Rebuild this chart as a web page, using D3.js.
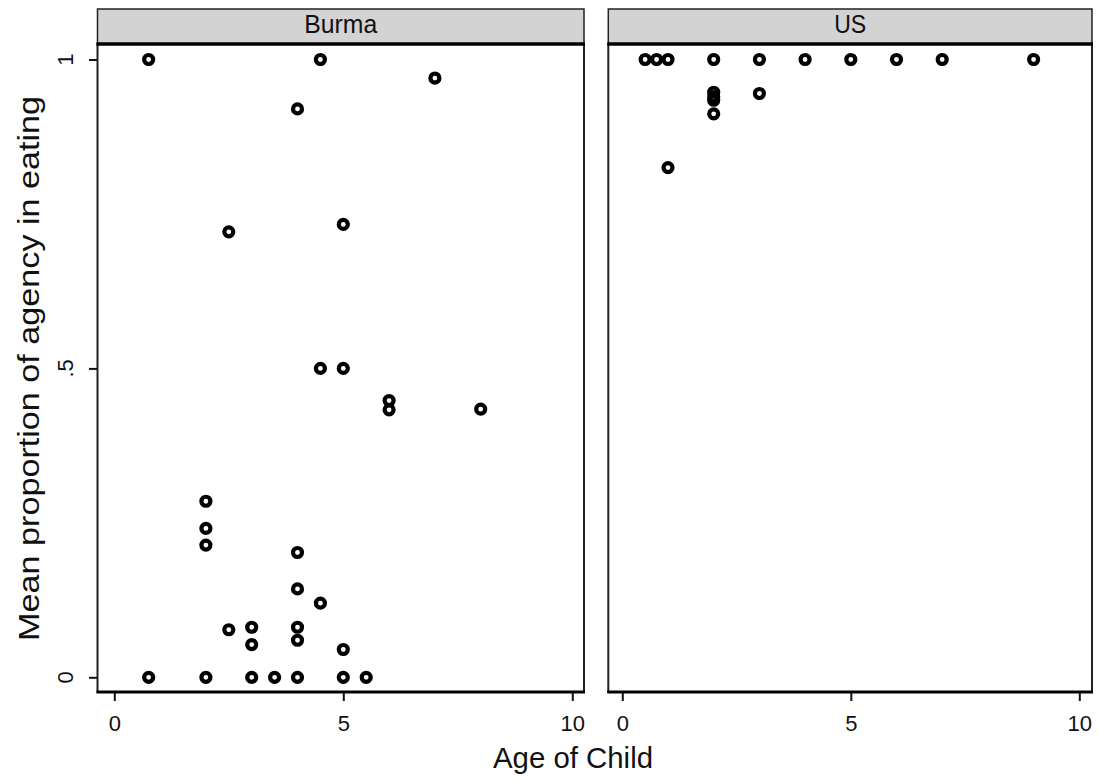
<!DOCTYPE html>
<html>
<head>
<meta charset="utf-8">
<script src="https://cdn.jsdelivr.net/npm/d3@7"></script>
<style>
  html, body { margin: 0; padding: 0; background: #fff; }
  svg { display: block; }
  text { font-family: "Liberation Sans", Arial, sans-serif; fill: #111; }
</style>
</head>
<body>
<svg id="chart" width="1098" height="780"></svg>
<script>
// ---- data ----
const panels = ["Burma", "US"];
const burmaAge = [0.75, 4.5, 7, 4, 2.5, 5, 4.5, 5, 6, 6, 8, 2, 2, 2, 4, 4, 4.5, 2.5, 3, 3, 4, 4, 5, 0.75, 2, 3, 3.5, 4, 5, 5.5];
const burmaAgency = [1, 1, 0.97, 0.92, 0.721, 0.733, 0.5, 0.5, 0.448, 0.433, 0.434, 0.285, 0.241, 0.214, 0.202, 0.143, 0.12, 0.077, 0.081, 0.053, 0.081, 0.06, 0.045, 0, 0, 0, 0, 0, 0, 0];
const usAge = [0.5, 0.75, 1, 2, 3, 4, 5, 6, 7, 9, 2, 2, 2, 2, 3, 1];
const usAgency = [1, 1, 1, 1, 1, 1, 1, 1, 1, 1, 0.947, 0.94, 0.934, 0.912, 0.945, 0.825];
const xTicks = [0, 5, 10];
const xTickLabels = ["0", "5", "10"];
const yTicks = [0, 0.5, 1];
const yTickLabels = ["0", ".5", "1"];
const xTitle = "Age of Child";
const yTitle = "Mean proportion of agency in eating";

// ---- layout ----
const svg = d3.select("#chart");
svg.append("rect").attr("width", 1098).attr("height", 780).attr("fill", "#fff");

const stripTop = 9, stripBottom = 44, plotBottom = 692;
const y = d3.scaleLinear().domain([0, 1]).range([677.3, 59.5]);

const panelDefs = [
  { name: panels[0], ages: burmaAge, vals: burmaAgency, left: 97.5, right: 584, x0: 114.3, x10: 572.3, tl: 73 },
  { name: panels[1], ages: usAge, vals: usAgency, left: 608.3, right: 1092, x0: 622.3, x10: 1079.3, tl: 32 }
];

panelDefs.forEach((p, i) => {
  const x = d3.scaleLinear().domain([0, 10]).range([p.x0, p.x10]);
  const g = svg.append("g");

  // strip
  g.append("rect")
    .attr("x", p.left).attr("y", stripTop)
    .attr("width", p.right - p.left).attr("height", stripBottom - stripTop)
    .attr("fill", "#d3d3d3").attr("stroke", "#222").attr("stroke-width", 1.5);
  g.append("text")
    .attr("x", (p.left + p.right) / 2).attr("y", 32.5)
    .attr("text-anchor", "middle").attr("font-size", 26)
    .attr("textLength", p.tl).attr("lengthAdjust", "spacingAndGlyphs")
    .text(p.name);

  // plot region
  g.append("rect")
    .attr("x", p.left).attr("y", stripBottom)
    .attr("width", p.right - p.left).attr("height", plotBottom - stripBottom)
    .attr("fill", "#fff").attr("stroke", "#222").attr("stroke-width", 2);
  // thick strip bottom line
  g.append("line")
    .attr("x1", p.left - 1).attr("x2", p.right + 1)
    .attr("y1", stripBottom).attr("y2", stripBottom)
    .attr("stroke", "#000").attr("stroke-width", 3.5);
  // thick bottom axis line
  g.append("line")
    .attr("x1", p.left - 1).attr("x2", p.right + 1)
    .attr("y1", plotBottom).attr("y2", plotBottom)
    .attr("stroke", "#000").attr("stroke-width", 3);

  // x axis
  const xa = g.append("g").attr("transform", `translate(0,${plotBottom + 1})`)
    .call(d3.axisBottom(x).tickValues(xTicks).tickSize(8).tickPadding(14)
      .tickFormat((d, k) => xTickLabels[k]));
  xa.select(".domain").remove();
  xa.selectAll(".tick line").attr("stroke", "#111").attr("stroke-width", 2);
  xa.selectAll(".tick text").attr("font-size", 22).attr("font-family", "Liberation Sans, Arial, sans-serif").attr("fill", "#111");

  // points
  const pts = p.ages.map((a, k) => [a, p.vals[k]]);
  g.append("g").selectAll("circle").data(pts).enter().append("circle")
    .attr("cx", d => x(d[0])).attr("cy", d => y(d[1]))
    .attr("r", 4.5).attr("fill", "none")
    .attr("stroke", "#000").attr("stroke-width", 4.2);

  // y axis on first panel
  if (i === 0) {
    const ya = g.append("g").attr("transform", `translate(${p.left - 0.5},0)`)
      .call(d3.axisLeft(y).tickValues(yTicks).tickSize(8).tickFormat(""));
    ya.select(".domain").remove();
    ya.selectAll(".tick line").attr("stroke", "#111").attr("stroke-width", 2);
    g.append("g").selectAll("text").data(yTicks).enter().append("text")
      .attr("x", 73).attr("y", d => y(d))
      .attr("transform", d => `rotate(-90,73,${y(d)})`)
      .attr("text-anchor", "middle").attr("font-size", 22)
      .text((d, k) => yTickLabels[k]);
  }
});

// axis titles
svg.append("text")
  .attr("x", 573).attr("y", 768)
  .attr("text-anchor", "middle").attr("font-size", 29)
  .attr("textLength", 160).attr("lengthAdjust", "spacingAndGlyphs")
  .text(xTitle);
svg.append("text")
  .attr("x", 39).attr("y", y(0.5))
  .attr("transform", `rotate(-90,39,${y(0.5)})`)
  .attr("text-anchor", "middle").attr("font-size", 30)
  .attr("textLength", 545).attr("lengthAdjust", "spacingAndGlyphs")
  .text(yTitle);
</script>
</body>
</html>
